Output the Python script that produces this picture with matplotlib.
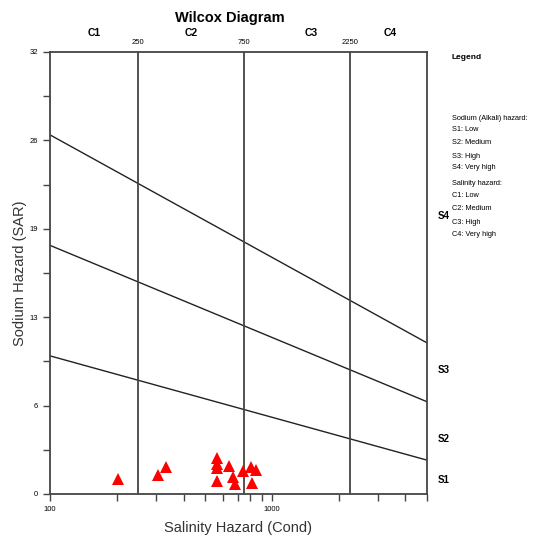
import matplotlib
matplotlib.use('Agg')
import matplotlib.pyplot as plt
import numpy as np
from matplotlib.ticker import FixedLocator, FixedFormatter, NullFormatter

plt.rcParams['font.family'] = ['Liberation Sans', 'DejaVu Sans']

# samples (conductivity, SAR)
cond = [203, 308, 335, 563, 563, 563, 563, 643, 670, 681, 738, 802, 845, 815]
sar = [1.08, 1.37, 1.98, 2.6, 2.2, 1.9, 0.97, 2.03, 1.2, 0.72, 1.69, 1.98, 1.74, 0.82]

# S boundary lines, SAR at cond = 100 and 5000
line_x = [100, 5000]
s_lines = [[10.0, 2.45], [18.0, 6.68], [26.0, 10.94]]

# salinity class boundaries
c_bounds = [250, 750, 2250]
c_labels = ['C1', 'C2', 'C3', 'C4']
c_label_x = [158, 433, 1500, 3400]

y_ticks = [0, 6.4, 12.8, 19.2, 25.6, 32]
y_ticklabels = ['0', '6', '13', '19', '26', '32']

s_labels = ['S1', 'S2', 'S3', 'S4']
s_label_y = [1.0, 4.0, 9.0, 20.1]

legend_lines = ['Sodium (Alkali) hazard:', 'S1: Low', 'S2: Medium', 'S3: High', 'S4: Very high',
                'Salinity hazard:', 'C1: Low', 'C2: Medium', 'C3: High', 'C4: Very high']

fig = plt.figure(figsize=(5.33, 5.41), dpi=100)
ax = fig.add_axes([0.0938, 0.0869, 0.7073, 0.817])
ax.set_xscale('log')
ax.set_xlim(100, 5000)
ax.set_ylim(0, 32)

for s in s_lines:
    ax.plot(line_x, s, color='#222222', lw=1.0)
for c in c_bounds:
    ax.axvline(c, color='#444444', lw=1.3)

ax.plot(cond, sar, '^', color='red', markersize=8.5, markeredgewidth=0, clip_on=False)

for sp in ax.spines.values():
    sp.set_color('#444444')
    sp.set_linewidth(1.3)

ax.yaxis.set_major_locator(FixedLocator(y_ticks))
ax.yaxis.set_major_formatter(FixedFormatter(y_ticklabels))
ax.yaxis.set_minor_locator(FixedLocator([3.2, 9.6, 16, 22.4, 28.8]))
ax.xaxis.set_major_locator(FixedLocator([100, 1000]))
ax.xaxis.set_major_formatter(FixedFormatter(['100', '1000']))
ax.xaxis.set_minor_locator(FixedLocator([200, 300, 400, 500, 600, 700, 800, 900,
                                         2000, 3000, 4000, 5000]))
ax.xaxis.set_minor_formatter(NullFormatter())
ax.tick_params(which='both', direction='out', length=5, width=1, color='#444444',
               labelsize=5.5, top=False, right=False)

ax.set_xlabel('Salinity Hazard (Cond)', fontsize=10.5, color='#333333', labelpad=6)
ax.set_ylabel('Sodium Hazard (SAR)', fontsize=10.5, color='#333333', labelpad=2)

fig.text(0.432, 0.967, 'Wilcox Diagram', fontsize=10.5, fontweight='bold',
         ha='center', va='center')

for lab, x in zip(c_labels, c_label_x):
    ax.text(x, 33.0, lab, fontsize=7.5, fontweight='bold', ha='center', va='bottom')
for c in c_bounds:
    ax.text(c, 32.4, str(c), fontsize=5.5, ha='center', va='bottom')

for lab, y in zip(s_labels, s_label_y):
    ax.text(5600, y, lab, fontsize=7, fontweight='bold', ha='left', va='center')

fig.text(0.848, 0.893, 'Legend', fontsize=6, fontweight='bold', va='center')
leg_y = [118, 130, 143, 156, 168, 183, 196, 209, 222, 235]
for txt, y in zip(legend_lines, leg_y):
    fig.text(0.848, 1 - y / 541, txt, fontsize=5.3, va='center')

fig.savefig('out.png', dpi=100)
